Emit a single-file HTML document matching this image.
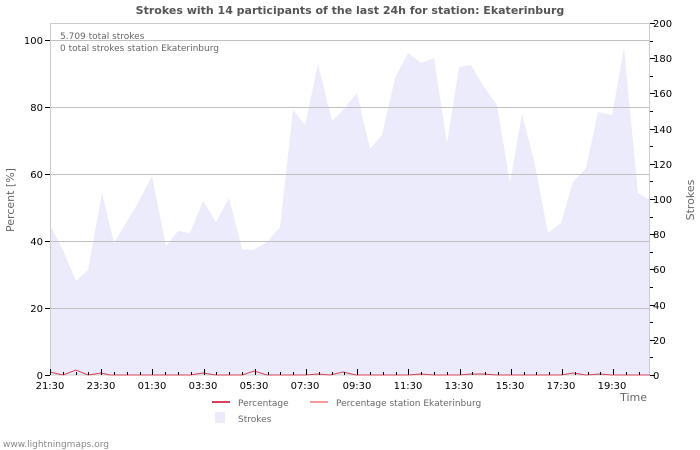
<!DOCTYPE html>
<html><head><meta charset="utf-8"><style>
body{margin:0;background:#fff;}
svg{display:block;font-family:"DejaVu Sans","Liberation Sans",sans-serif;}
</style></head><body>
<svg width="700" height="450" viewBox="0 0 700 450" xmlns="http://www.w3.org/2000/svg">
<rect width="700" height="450" fill="#fff"/>
<text x="350" y="14" text-anchor="middle" font-size="11" font-weight="bold" fill="#555">Strokes with 14 participants of the last 24h for station: Ekaterinburg</text>
<polygon fill="#ebebfc" points="50,375 50,225 63,250 76,281 88,270 102,193 114,243 138,203 152,176 166,246 178,231 190,233 203,201 216,222 229,198 242,249 253,250 267,242 280,227 293,110 305,125 318,64 332,121 343,110 357,93 370,149 382,135 395,78 408,53 421,63 434,58 447,143 459,67 471,65 484,87 497,105 510,183 522,114 535,165 548,233 561,223 573,182 586,168 598,112 612,115 624,48 638,193 650,200 650,375"/>
<g stroke="#c0c0c0" stroke-width="1">
<line x1="50" y1="308.5" x2="650" y2="308.5"/>
<line x1="50" y1="241.5" x2="650" y2="241.5"/>
<line x1="50" y1="174.5" x2="650" y2="174.5"/>
<line x1="50" y1="107.5" x2="650" y2="107.5"/>
<line x1="50" y1="40.5" x2="650" y2="40.5"/>
</g>
<rect x="50.5" y="23.5" width="599" height="351.5" fill="none" stroke="#ccc"/>
<polyline fill="none" stroke="#d9415a" stroke-width="1" points="50,372 63,375 76,370 88,375 101,373 110,375 140,375 150,375 190,375 203,373 216,375 242,375 254,371 267,375 305,375 318,374 330,375 343,372 356,375 408,375 421,374 434,375 459,375 471,374 484,374 497,375 561,375 573,373 586,375 600,374 612,375 650,375"/>
<g stroke="#000" stroke-width="1">
<line x1="45" y1="375.5" x2="50" y2="375.5"/><line x1="45" y1="308.5" x2="50" y2="308.5"/><line x1="45" y1="241.5" x2="50" y2="241.5"/><line x1="45" y1="174.5" x2="50" y2="174.5"/><line x1="45" y1="107.5" x2="50" y2="107.5"/><line x1="45" y1="40.5" x2="50" y2="40.5"/>
</g>
<path stroke="#000" stroke-width="1" fill="none" d="M650,375.5h5M650,357.5h3M650,340.5h5M650,322.5h3M650,305.5h5M650,287.5h3M650,269.5h5M650,252.5h3M650,234.5h5M650,217.5h3M650,199.5h5M650,181.5h3M650,164.5h5M650,146.5h3M650,129.5h5M650,111.5h3M650,93.5h5M650,76.5h3M650,58.5h5M650,41.5h3M650,23.5h5"/>
<path stroke="#000" stroke-width="1" fill="none" d="M50.5,375v-6M63.5,375v-3M76.5,375v-3M88.5,375v-3M101.5,375v-6M114.5,375v-3M127.5,375v-3M140.5,375v-3M152.5,375v-6M165.5,375v-3M178.5,375v-3M191.5,375v-3M204.5,375v-6M216.5,375v-3M229.5,375v-3M242.5,375v-3M255.5,375v-6M268.5,375v-3M280.5,375v-3M293.5,375v-3M306.5,375v-6M319.5,375v-3M332.5,375v-3M344.5,375v-3M357.5,375v-6M370.5,375v-3M383.5,375v-3M396.5,375v-3M408.5,375v-6M421.5,375v-3M434.5,375v-3M447.5,375v-3M460.5,375v-6M472.5,375v-3M485.5,375v-3M498.5,375v-3M511.5,375v-6M524.5,375v-3M536.5,375v-3M549.5,375v-3M562.5,375v-6M575.5,375v-3M588.5,375v-3M600.5,375v-3M613.5,375v-6M626.5,375v-3M639.5,375v-3"/>
<g font-size="10" fill="#000" text-anchor="end">
<text x="43" y="379">0</text><text x="43" y="312">20</text><text x="43" y="245">40</text><text x="43" y="178">60</text><text x="43" y="111">80</text><text x="43" y="44">100</text>
</g>
<g font-size="10" fill="#000" text-anchor="start">
<text x="653" y="379">0</text><text x="653" y="344">20</text><text x="653" y="309">40</text><text x="653" y="273">60</text><text x="653" y="238">80</text><text x="653" y="203">100</text><text x="653" y="168">120</text><text x="653" y="133">140</text><text x="653" y="97">160</text><text x="653" y="62">180</text><text x="653" y="27">200</text>
</g>
<g font-size="10" fill="#000" text-anchor="middle">
<text x="50" y="389">21:30</text><text x="101" y="389">23:30</text><text x="152" y="389">01:30</text><text x="203" y="389">03:30</text><text x="254" y="389">05:30</text><text x="305" y="389">07:30</text><text x="357" y="389">09:30</text><text x="408" y="389">11:30</text><text x="459" y="389">13:30</text><text x="510" y="389">15:30</text><text x="561" y="389">17:30</text><text x="612" y="389">19:30</text>
</g>
<text x="14" y="200" font-size="11" fill="#666" text-anchor="middle" transform="rotate(-90 14 200)">Percent   [%]</text>
<text x="694" y="200" font-size="11" fill="#666" text-anchor="middle" transform="rotate(-90 694 200)">Strokes</text>
<text x="647" y="401" font-size="11" fill="#666" text-anchor="end">Time</text>
<text x="60" y="39" font-size="9" fill="#666">5.709 total strokes</text>
<text x="60" y="51" font-size="9" fill="#666">0 total strokes station Ekaterinburg</text>
<line x1="212" y1="402" x2="230" y2="402" stroke="#d9415a" stroke-width="2"/>
<text x="238" y="406" font-size="9" fill="#666">Percentage</text>
<line x1="310" y1="402" x2="328" y2="402" stroke="#f59a9a" stroke-width="2"/>
<text x="336" y="406" font-size="9" fill="#666">Percentage station Ekaterinburg</text>
<rect x="215" y="412" width="10" height="11" fill="#ebebfc"/>
<text x="238" y="422" font-size="9" fill="#666">Strokes</text>
<text x="3" y="447" font-size="9" fill="#888">www.lightningmaps.org</text>
</svg>
</body></html>
